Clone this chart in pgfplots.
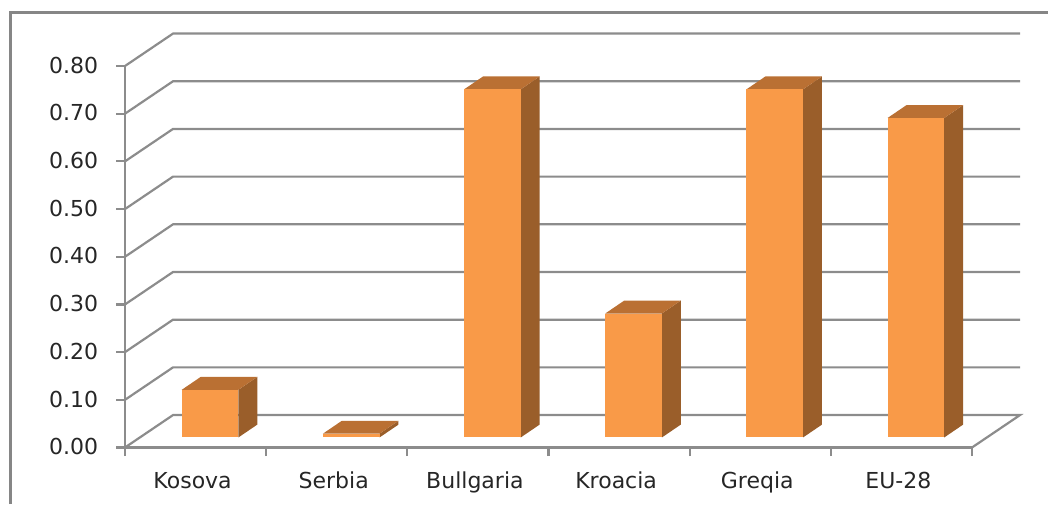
\documentclass[border=0pt]{standalone}
\usepackage{fontspec}
\setmainfont{DejaVu Sans}
\usepackage{pgfplots}
\pgfplotsset{compat=1.18}
\definecolor{linegray}{HTML}{8C8C8C}
\definecolor{framegray}{HTML}{868686}
\definecolor{barfront}{HTML}{F99A48}
\definecolor{bartop}{HTML}{BA7033}
\definecolor{barside}{HTML}{9A5E2A}
\pgfplotsset{
  grid3d/.style={no markers,color=linegray,line width=1.1pt,line join=miter},
  front/.style={draw=none,fill=barfront},
  top/.style={draw=none,fill=bartop},
  side/.style={draw=none,fill=barside},
}
\begin{document}
\begin{tikzpicture}
% 1 px of the reference = 0.5pt, origin at the front corner of the floor
\useasboundingbox (-62.5pt,-28.25pt) rectangle (461.5pt,223.75pt);
\draw[framegray,line width=1.2pt] (-57.25pt,-28.25pt) -- (-57.25pt,217.5pt) -- (461.5pt,217.5pt);
\begin{axis}[
  at={(0pt,0pt)},anchor=origin,
  scale only axis,width=423.5pt,height=190.75pt,
  xmin=0,xmax=6,ymin=0,ymax=0.8,
  clip=false,
  axis x line=bottom,axis y line=left,
  axis line style={-,color=linegray,line width=1.1pt},
  tick style={color=linegray,line width=1.1pt},
  tick align=outside,
  major tick length=4.25pt,
  xtick={0,1,2,3,4,5,6},
  x tick label as interval,
  xticklabels={Kosova,Serbia,Bullgaria,Kroacia,Greqia,EU-28},
  ytick={0,0.1,0.2,0.3,0.4,0.5,0.6,0.7,0.8},
  scaled ticks=false,
  tick label style={font=\fontsize{11}{13}\selectfont,text=black!85,
    /pgf/number format/assume math mode=true},
  yticklabel style={/pgf/number format/fixed,/pgf/number format/fixed zerofill,
    /pgf/number format/precision=2,inner sep=0pt,xshift=-9pt,yshift=0.4pt},
  xticklabel style={inner sep=0pt,text height=8pt,text depth=0pt,xshift=-1.5pt,yshift=-8pt},
]
% side wall and back wall
\addplot[grid3d] coordinates {(0,0.8) (0.34,0.868) (6.34,0.868)};
\addplot[grid3d] coordinates {(0,0.7) (0.34,0.768) (6.34,0.768)};
\addplot[grid3d] coordinates {(0,0.6) (0.34,0.668) (6.34,0.668)};
\addplot[grid3d] coordinates {(0,0.5) (0.34,0.568) (6.34,0.568)};
\addplot[grid3d] coordinates {(0,0.4) (0.34,0.468) (6.34,0.468)};
\addplot[grid3d] coordinates {(0,0.3) (0.34,0.368) (6.34,0.368)};
\addplot[grid3d] coordinates {(0,0.2) (0.34,0.268) (6.34,0.268)};
\addplot[grid3d] coordinates {(0,0.1) (0.34,0.168) (6.34,0.168)};
\addplot[grid3d] coordinates {(0,0) (0.34,0.068) (6.34,0.068) (6,0)};
% Kosova 0.10
\addplot[side] coordinates {(0.803,0.021) (0.937,0.048) (0.937,0.148) (0.803,0.121)} -- cycle;
\addplot[top] coordinates {(0.402,0.121) (0.536,0.148) (0.937,0.148) (0.803,0.121)} -- cycle;
\addplot[front] coordinates {(0.402,0.021) (0.803,0.021) (0.803,0.121) (0.402,0.121)} -- cycle;
% Serbia 0.01
\addplot[side] coordinates {(1.803,0.021) (1.937,0.048) (1.937,0.056) (1.803,0.029)} -- cycle;
\addplot[top] coordinates {(1.402,0.029) (1.536,0.056) (1.937,0.056) (1.803,0.029)} -- cycle;
\addplot[front] coordinates {(1.402,0.021) (1.803,0.021) (1.803,0.029) (1.402,0.029)} -- cycle;
% Bullgaria 0.73
\addplot[side] coordinates {(2.803,0.021) (2.937,0.048) (2.937,0.778) (2.803,0.751)} -- cycle;
\addplot[top] coordinates {(2.402,0.751) (2.536,0.778) (2.937,0.778) (2.803,0.751)} -- cycle;
\addplot[front] coordinates {(2.402,0.021) (2.803,0.021) (2.803,0.751) (2.402,0.751)} -- cycle;
% Kroacia 0.26
\addplot[side] coordinates {(3.803,0.021) (3.937,0.048) (3.937,0.308) (3.803,0.281)} -- cycle;
\addplot[top] coordinates {(3.402,0.281) (3.536,0.308) (3.937,0.308) (3.803,0.281)} -- cycle;
\addplot[front] coordinates {(3.402,0.021) (3.803,0.021) (3.803,0.281) (3.402,0.281)} -- cycle;
% Greqia 0.73
\addplot[side] coordinates {(4.803,0.021) (4.937,0.048) (4.937,0.778) (4.803,0.751)} -- cycle;
\addplot[top] coordinates {(4.402,0.751) (4.536,0.778) (4.937,0.778) (4.803,0.751)} -- cycle;
\addplot[front] coordinates {(4.402,0.021) (4.803,0.021) (4.803,0.751) (4.402,0.751)} -- cycle;
% EU-28 0.67
\addplot[side] coordinates {(5.803,0.021) (5.937,0.048) (5.937,0.718) (5.803,0.691)} -- cycle;
\addplot[top] coordinates {(5.402,0.691) (5.536,0.718) (5.937,0.718) (5.803,0.691)} -- cycle;
\addplot[front] coordinates {(5.402,0.021) (5.803,0.021) (5.803,0.691) (5.402,0.691)} -- cycle;
\end{axis}
\end{tikzpicture}
\end{document}
